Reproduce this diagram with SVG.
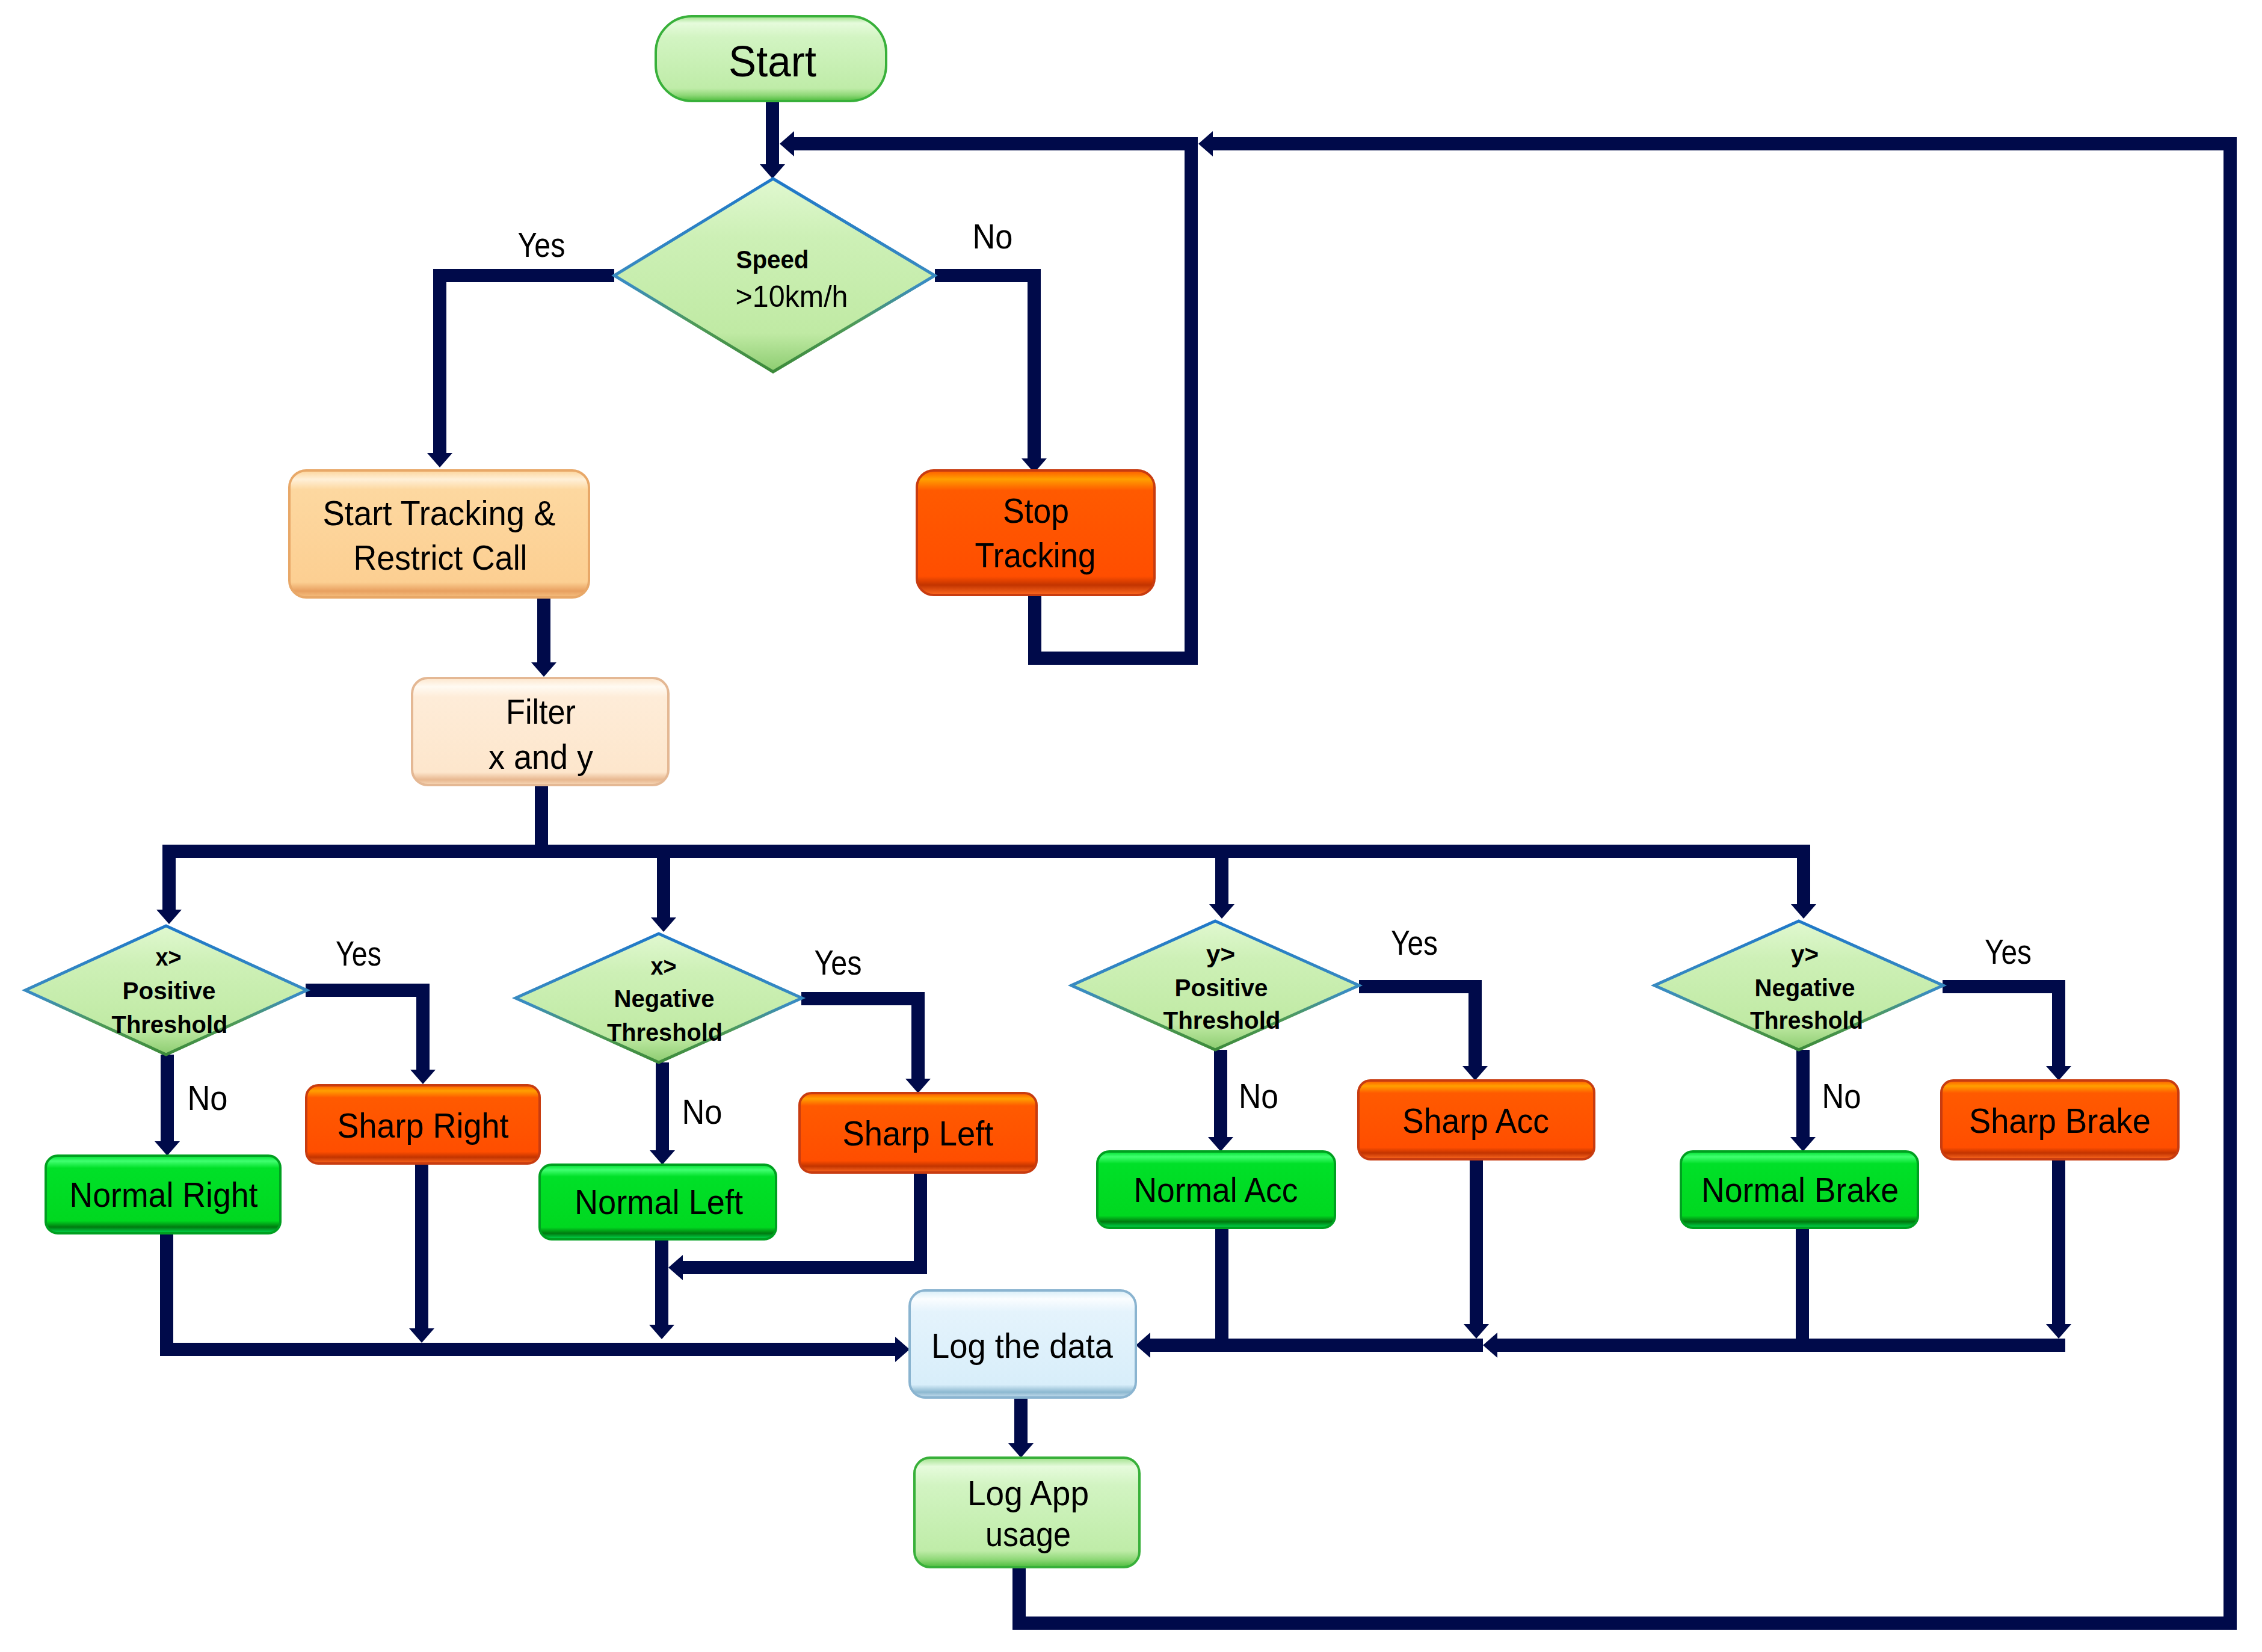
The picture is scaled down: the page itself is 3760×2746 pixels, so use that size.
<svg xmlns="http://www.w3.org/2000/svg" width="3760" height="2746" viewBox="0 0 3760 2746">
<defs>
<style>
text{font-family:"Liberation Sans",Arial,sans-serif;fill:#000;text-anchor:middle}
.t{font-size:58px}
.lb{font-size:58px}
.d{font-size:40px;font-weight:bold}
.c path{fill:none;stroke:#000a4a;stroke-width:22;stroke-linejoin:miter;stroke-linecap:butt}
.ce path{marker-end:url(#ah)}
.box{stroke-width:4}
.red{fill:url(#gRed);stroke:#c83c10}
.grn{fill:url(#gGreen);stroke:#00a020}
.lg{fill:url(#gLight);stroke:#38b03a}
.dia{fill:url(#gDia);stroke:url(#gDiaS);stroke-width:5}
</style>
<marker id="ah" markerUnits="userSpaceOnUse" markerWidth="24" markerHeight="42" refX="0" refY="21" orient="auto" viewBox="0 0 24 42">
<path d="M0,0 L24,21 L0,42 z" fill="#000a4a"/>
</marker>
<linearGradient id="gLight" x1="0" y1="0" x2="0" y2="1">
<stop offset="0" stop-color="#9fe08a"/><stop offset="0.08" stop-color="#e6fbdc"/><stop offset="0.25" stop-color="#d2f4c2"/><stop offset="0.85" stop-color="#bfeca8"/><stop offset="0.93" stop-color="#8fd878"/><stop offset="1" stop-color="#4cbc3c"/>
</linearGradient>
<linearGradient id="gRed" x1="0" y1="0" x2="0" y2="1">
<stop offset="0" stop-color="#ff5a00"/><stop offset="0.07" stop-color="#ffa000"/><stop offset="0.16" stop-color="#ff5a00"/><stop offset="0.85" stop-color="#ff4e00"/><stop offset="0.92" stop-color="#c23400"/><stop offset="1" stop-color="#ff6a20"/>
</linearGradient>
<linearGradient id="gGreen" x1="0" y1="0" x2="0" y2="1">
<stop offset="0" stop-color="#00e030"/><stop offset="0.07" stop-color="#40ff70"/><stop offset="0.16" stop-color="#00e028"/><stop offset="0.84" stop-color="#00d820"/><stop offset="0.92" stop-color="#007a10"/><stop offset="1" stop-color="#00e050"/>
</linearGradient>
<linearGradient id="gOrange" x1="0" y1="0" x2="0" y2="1">
<stop offset="0" stop-color="#fcd49a"/><stop offset="0.07" stop-color="#fff0d8"/><stop offset="0.15" stop-color="#fdd8a0"/><stop offset="0.88" stop-color="#fccf92"/><stop offset="0.95" stop-color="#e8a060"/><stop offset="1" stop-color="#f6c080"/>
</linearGradient>
<linearGradient id="gPeach" x1="0" y1="0" x2="0" y2="1">
<stop offset="0" stop-color="#fde6cc"/><stop offset="0.08" stop-color="#fffaf2"/><stop offset="0.18" stop-color="#feecd8"/><stop offset="0.88" stop-color="#fde6cc"/><stop offset="0.95" stop-color="#e8b890"/><stop offset="1" stop-color="#f8d8b8"/>
</linearGradient>
<linearGradient id="gBlue" x1="0" y1="0" x2="0" y2="1">
<stop offset="0" stop-color="#d8eef8"/><stop offset="0.08" stop-color="#fafdff"/><stop offset="0.2" stop-color="#e4f3fc"/><stop offset="0.88" stop-color="#d8eefa"/><stop offset="0.95" stop-color="#8cb8d0"/><stop offset="1" stop-color="#c8e0f0"/>
</linearGradient>
<linearGradient id="gDia" x1="0" y1="0" x2="0" y2="1">
<stop offset="0" stop-color="#e0f8d0"/><stop offset="0.3" stop-color="#cdf0b6"/><stop offset="0.8" stop-color="#c0eaa4"/><stop offset="1" stop-color="#8ccc70"/>
</linearGradient>
<linearGradient id="gDiaS" x1="0" y1="0" x2="0" y2="1">
<stop offset="0" stop-color="#1f78c8"/><stop offset="0.55" stop-color="#3a8cc0"/><stop offset="0.75" stop-color="#4e9a58"/><stop offset="1" stop-color="#3c8a3a"/>
</linearGradient>
</defs>
<rect width="3760" height="2746" fill="#fff"/>

<g id="connectors" class="c">
<g class="ce">
<path d="M1284,168 V273"/>
<path d="M1720,989 V1094 H1980 V239 H1320"/>
<path d="M1694,2605 V2698 H3707 V239 H2016"/>
<path d="M1021,458 H731 V753"/>
<path d="M1554,458 H1719 V762"/>
<path d="M904,993 V1101"/>
<path d="M900,1415 H281 V1512"/>
<path d="M900,1415 H2998 V1503"/>
<path d="M1103,1415 V1525"/>
<path d="M2031,1415 V1503"/>
<path d="M508,1646 H703 V1778"/>
<path d="M278,1753 V1897"/>
<path d="M1332,1660 H1526 V1793"/>
<path d="M1101,1766 V1912"/>
<path d="M2259,1640 H2452 V1772"/>
<path d="M2029,1745 V1890"/>
<path d="M3229,1640 H3422 V1772"/>
<path d="M2997,1745 V1890"/>
<path d="M277,2050 V2243 H1488"/>
<path d="M701,1934 V2208"/>
<path d="M1100,2059 V2202"/>
<path d="M1530,1949 V2107 H1135"/>
<path d="M2465,2236 H1912"/>
<path d="M2454,1927 V2201"/>
<path d="M3433,2236 H2489"/>
<path d="M3422,1927 V2201"/>
<path d="M1697,2323 V2399"/>
</g>
<path d="M900,1305 V1426"/>
<path d="M2031,2041 V2247"/>
<path d="M2996,2041 V2247"/>
</g>

<g id="start">
<rect class="box lg" x="1090" y="27" width="383" height="141" rx="60"/>
<text x="1284" y="127" font-size="72" textLength="146" lengthAdjust="spacingAndGlyphs">Start</text>
</g>
<g id="speed">
<polygon class="dia" points="1285,297 1554,458 1285,618 1021,458"/>
<text x="1284" y="446" font-size="42" font-weight="bold" textLength="121" lengthAdjust="spacingAndGlyphs">Speed</text>
<text x="1316" y="510" font-size="50" textLength="187" lengthAdjust="spacingAndGlyphs">&gt;10km/h</text>
</g>
<g id="label-yes-speed"><text class="lb" x="900" y="427" textLength="79" lengthAdjust="spacingAndGlyphs">Yes</text></g>
<g id="label-no-speed"><text class="lb" x="1650" y="413" textLength="67" lengthAdjust="spacingAndGlyphs">No</text></g>
<g id="start-tracking">
<rect class="box" x="481" y="782" width="498" height="211" rx="28" fill="url(#gOrange)" stroke="#e8a868"/>
<text class="t" x="730" y="873" font-size="60" textLength="387" lengthAdjust="spacingAndGlyphs">Start Tracking &amp;</text>
<text class="t" x="732" y="947" font-size="60" textLength="289" lengthAdjust="spacingAndGlyphs">Restrict Call</text>
</g>
<g id="stop-tracking">
<rect class="box red" x="1524" y="782" width="395" height="207" rx="28"/>
<text class="t" x="1722" y="869" font-size="60" textLength="110" lengthAdjust="spacingAndGlyphs">Stop</text>
<text class="t" x="1721" y="943" font-size="60" textLength="201" lengthAdjust="spacingAndGlyphs">Tracking</text>
</g>
<g id="filter">
<rect class="box" x="685" y="1127" width="426" height="178" rx="26" fill="url(#gPeach)" stroke="#e4b894"/>
<text class="t" x="899" y="1203" font-size="60" textLength="116" lengthAdjust="spacingAndGlyphs">Filter</text>
<text class="t" x="899" y="1278" font-size="60" textLength="174" lengthAdjust="spacingAndGlyphs">x and y</text>
</g>

<g id="x-positive">
<polygon class="dia" points="276,1539 510,1646 276,1753 42,1646"/>
<text class="d" x="280" y="1605" textLength="43" lengthAdjust="spacingAndGlyphs">x&gt;</text>
<text class="d" x="281" y="1661" textLength="155" lengthAdjust="spacingAndGlyphs">Positive</text>
<text class="d" x="282" y="1717" textLength="193" lengthAdjust="spacingAndGlyphs">Threshold</text>
</g>
<g id="label-yes-1"><text class="lb" x="596" y="1605" font-size="56" textLength="76" lengthAdjust="spacingAndGlyphs">Yes</text></g>
<g id="label-no-1"><text class="lb" x="345" y="1845" textLength="67" lengthAdjust="spacingAndGlyphs">No</text></g>
<g id="sharp-right">
<rect class="box red" x="509" y="1804" width="388" height="130" rx="20"/>
<text class="t" x="703" y="1891" textLength="285" lengthAdjust="spacingAndGlyphs">Sharp Right</text>
</g>
<g id="normal-right">
<rect class="box grn" x="76" y="1921" width="390" height="129" rx="20"/>
<text class="t" x="272" y="2006" textLength="313" lengthAdjust="spacingAndGlyphs">Normal Right</text>
</g>

<g id="x-negative">
<polygon class="dia" points="1095,1552 1333,1659 1095,1766 857,1659"/>
<text class="d" x="1103" y="1620" textLength="43" lengthAdjust="spacingAndGlyphs">x&gt;</text>
<text class="d" x="1104" y="1674" textLength="167" lengthAdjust="spacingAndGlyphs">Negative</text>
<text class="d" x="1105" y="1730" textLength="192" lengthAdjust="spacingAndGlyphs">Threshold</text>
</g>
<g id="label-yes-2"><text class="lb" x="1393" y="1620" textLength="79" lengthAdjust="spacingAndGlyphs">Yes</text></g>
<g id="label-no-2"><text class="lb" x="1167" y="1868" textLength="67" lengthAdjust="spacingAndGlyphs">No</text></g>
<g id="sharp-left">
<rect class="box red" x="1329" y="1817" width="394" height="132" rx="20"/>
<text class="t" x="1526" y="1904" textLength="251" lengthAdjust="spacingAndGlyphs">Sharp Left</text>
</g>
<g id="normal-left">
<rect class="box grn" x="897" y="1936" width="393" height="124" rx="20"/>
<text class="t" x="1095" y="2018" textLength="280" lengthAdjust="spacingAndGlyphs">Normal Left</text>
</g>

<g id="y-positive">
<polygon class="dia" points="2020,1531 2259,1638 2020,1745 1781,1638"/>
<text class="d" x="2029" y="1600" textLength="48" lengthAdjust="spacingAndGlyphs">y&gt;</text>
<text class="d" x="2030" y="1656" textLength="155" lengthAdjust="spacingAndGlyphs">Positive</text>
<text class="d" x="2031" y="1710" textLength="195" lengthAdjust="spacingAndGlyphs">Threshold</text>
</g>
<g id="label-yes-3"><text class="lb" x="2351" y="1587" textLength="78" lengthAdjust="spacingAndGlyphs">Yes</text></g>
<g id="label-no-3"><text class="lb" x="2092" y="1842" textLength="66" lengthAdjust="spacingAndGlyphs">No</text></g>
<g id="sharp-acc">
<rect class="box red" x="2258" y="1796" width="392" height="131" rx="20"/>
<text class="t" x="2453" y="1883" textLength="244" lengthAdjust="spacingAndGlyphs">Sharp Acc</text>
</g>
<g id="normal-acc">
<rect class="box grn" x="1824" y="1914" width="395" height="127" rx="20"/>
<text class="t" x="2021" y="1998" textLength="273" lengthAdjust="spacingAndGlyphs">Normal Acc</text>
</g>

<g id="y-negative">
<polygon class="dia" points="2990,1531 3230,1638 2990,1745 2750,1638"/>
<text class="d" x="3000" y="1600" textLength="46" lengthAdjust="spacingAndGlyphs">y&gt;</text>
<text class="d" x="3000" y="1656" textLength="167" lengthAdjust="spacingAndGlyphs">Negative</text>
<text class="d" x="3003" y="1710" textLength="188" lengthAdjust="spacingAndGlyphs">Threshold</text>
</g>
<g id="label-yes-4"><text class="lb" x="3338" y="1602" textLength="78" lengthAdjust="spacingAndGlyphs">Yes</text></g>
<g id="label-no-4"><text class="lb" x="3061" y="1842" textLength="65" lengthAdjust="spacingAndGlyphs">No</text></g>
<g id="sharp-brake">
<rect class="box red" x="3227" y="1796" width="394" height="131" rx="20"/>
<text class="t" x="3424" y="1883" textLength="302" lengthAdjust="spacingAndGlyphs">Sharp Brake</text>
</g>
<g id="normal-brake">
<rect class="box grn" x="2794" y="1914" width="394" height="127" rx="20"/>
<text class="t" x="2992" y="1998" textLength="328" lengthAdjust="spacingAndGlyphs">Normal Brake</text>
</g>

<g id="log-data">
<rect class="box" x="1512" y="2145" width="376" height="178" rx="26" fill="url(#gBlue)" stroke="#8ab4d0"/>
<text class="t" x="1699" y="2257" font-size="56" textLength="302" lengthAdjust="spacingAndGlyphs">Log the data</text>
</g>
<g id="log-app">
<rect class="box lg" x="1520" y="2423" width="374" height="182" rx="26"/>
<text class="t" x="1709" y="2502" font-size="60" textLength="202" lengthAdjust="spacingAndGlyphs">Log App</text>
<text class="t" x="1709" y="2570" font-size="60" textLength="142" lengthAdjust="spacingAndGlyphs">usage</text>
</g>
</svg>
